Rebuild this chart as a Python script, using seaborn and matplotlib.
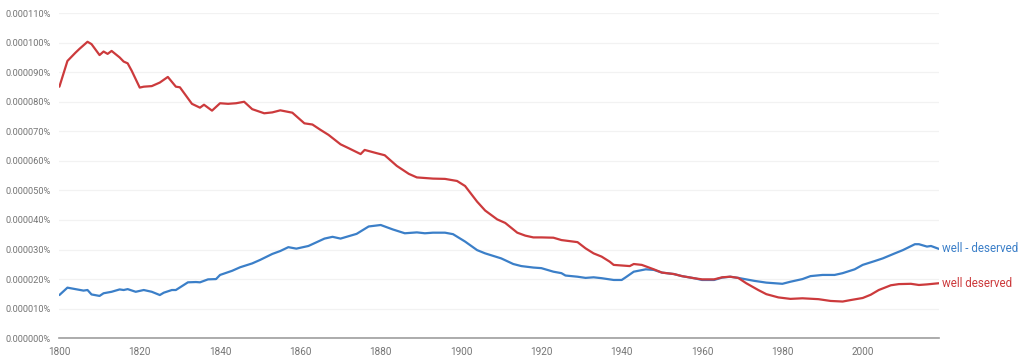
import pandas as pd
import matplotlib
matplotlib.use("Agg")
import matplotlib.pyplot as plt
import seaborn as sns
from matplotlib.ticker import FuncFormatter

# values in units of 0.00001 %
red_years = [1800, 1802, 1804, 1805, 1807, 1808, 1810, 1811, 1812, 1813, 1815, 1816, 1817, 1818,
             1820, 1821, 1823, 1825, 1827, 1829, 1830, 1833, 1835, 1836, 1838, 1840, 1842, 1844,
             1846, 1848, 1851, 1853, 1855, 1858, 1861, 1863, 1865, 1867, 1870, 1872, 1875, 1876,
             1879, 1881, 1884, 1887, 1889, 1893, 1896, 1899, 1901, 1904, 1906, 1909, 1911, 1914,
             1916, 1918, 1920, 1923, 1925, 1929, 1931, 1933, 1935, 1937, 1938, 1942, 1943, 1945,
             1948, 1950, 1953, 1955, 1958, 1960, 1963, 1965, 1967, 1969, 1971, 1974, 1976, 1979,
             1982, 1985, 1989, 1992, 1995, 1997, 2000, 2002, 2004, 2007, 2009, 2012, 2014, 2016,
             2019]
red_vals = [8.51, 9.38, 9.66, 9.79, 10.03, 9.95, 9.58, 9.70, 9.62, 9.72, 9.50, 9.36, 9.30, 9.05,
            8.48, 8.51, 8.53, 8.65, 8.84, 8.51, 8.49, 7.93, 7.80, 7.90, 7.70, 7.95, 7.93, 7.95,
            8.00, 7.75, 7.61, 7.64, 7.71, 7.63, 7.27, 7.23, 7.05, 6.88, 6.56, 6.43, 6.23, 6.37,
            6.26, 6.19, 5.83, 5.56, 5.44, 5.40, 5.39, 5.32, 5.15, 4.62, 4.32, 4.02, 3.90, 3.57,
            3.47, 3.41, 3.41, 3.40, 3.32, 3.25, 3.04, 2.87, 2.76, 2.59, 2.48, 2.44, 2.51, 2.48,
            2.33, 2.22, 2.17, 2.10, 2.03, 1.99, 1.99, 2.06, 2.08, 2.04, 1.86, 1.63, 1.49, 1.38,
            1.33, 1.35, 1.32, 1.26, 1.24, 1.29, 1.36, 1.47, 1.63, 1.79, 1.83, 1.84, 1.80, 1.82,
            1.86]

blue_years = [1800, 1802, 1804, 1806, 1807, 1808, 1810, 1811, 1813, 1815, 1816, 1817, 1819, 1821,
              1823, 1825, 1826, 1828, 1829, 1832, 1834, 1835, 1837, 1839, 1840, 1843, 1845, 1848,
              1850, 1853, 1855, 1857, 1859, 1862, 1866, 1868, 1870, 1874, 1877, 1880, 1883, 1886,
              1889, 1891, 1893, 1896, 1898, 1901, 1904, 1906, 1910, 1913, 1915, 1918, 1920, 1923,
              1925, 1926, 1929, 1931, 1933, 1935, 1938, 1940, 1941, 1943, 1946, 1948, 1950, 1953,
              1955, 1958, 1960, 1963, 1965, 1967, 1969, 1973, 1976, 1980, 1982, 1985, 1987, 1990,
              1993, 1995, 1998, 2000, 2003, 2005, 2008, 2010, 2013, 2014, 2016, 2017, 2019]
blue_vals = [1.46, 1.71, 1.66, 1.61, 1.63, 1.48, 1.43, 1.52, 1.57, 1.65, 1.63, 1.66, 1.57, 1.63,
             1.57, 1.46, 1.54, 1.63, 1.63, 1.89, 1.90, 1.89, 1.99, 2.00, 2.14, 2.28, 2.40, 2.53,
             2.65, 2.85, 2.95, 3.08, 3.03, 3.12, 3.37, 3.43, 3.37, 3.53, 3.78, 3.83, 3.68, 3.55,
             3.58, 3.55, 3.57, 3.57, 3.52, 3.27, 2.98, 2.87, 2.70, 2.51, 2.44, 2.39, 2.37, 2.25,
             2.20, 2.12, 2.08, 2.04, 2.06, 2.03, 1.97, 1.97, 2.06, 2.25, 2.33, 2.31, 2.22, 2.17,
             2.10, 2.03, 1.97, 1.97, 2.05, 2.08, 2.04, 1.94, 1.88, 1.84, 1.91, 2.00, 2.10, 2.14,
             2.14, 2.20, 2.33, 2.48, 2.61, 2.70, 2.87, 2.98, 3.18, 3.18, 3.10, 3.12, 3.02]

labels = ["well - deserved", "well deserved"]
colors = {"well - deserved": "#3b7fc8", "well deserved": "#cc3a3c"}

df = pd.concat([
    pd.DataFrame({"year": blue_years, "pct": [v * 1e-5 for v in blue_vals], "ngram": labels[0]}),
    pd.DataFrame({"year": red_years, "pct": [v * 1e-5 for v in red_vals], "ngram": labels[1]}),
])

sns.set_style("white")
plt.rcParams["font.family"] = ["Roboto", "DejaVu Sans"]

fig = plt.figure(figsize=(10.24, 3.6), dpi=100)
ax = fig.add_axes([0.058, 0.0606, 0.859, 0.903])
sns.lineplot(data=df, x="year", y="pct", hue="ngram", palette=colors, linewidth=1.6,
             legend=False, ax=ax)

ax.set_xlim(1800, 2019)
ax.set_ylim(0, 0.000110)
ax.set_yticks([i * 1e-5 for i in range(12)])
ax.yaxis.set_major_formatter(FuncFormatter(lambda v, p: f"{v:.6f}%"))
ax.set_xticks(range(1800, 2020, 20))
ax.grid(axis="y", color="#f2f2f2", linewidth=0.9)
ax.set_axisbelow(True)
for s in ["top", "right", "left"]:
    ax.spines[s].set_visible(False)
ax.spines["bottom"].set_color("#9e9e9e")
ax.spines["bottom"].set_linewidth(1.2)
ax.tick_params(axis="y", length=4, width=0.9, color="#757575", labelsize=6.7,
               labelcolor="#757575", pad=2)
ax.tick_params(axis="x", length=4, color="#9e9e9e", labelsize=7.2, labelcolor="#757575", pad=2)
ax.set_xlabel("")
ax.set_ylabel("")

ax.text(2019.8, blue_vals[-1] * 1e-5, labels[0], color=colors[labels[0]], fontsize=8.4,
        va="center", ha="left")
ax.text(2019.8, red_vals[-1] * 1e-5, labels[1], color=colors[labels[1]], fontsize=8.4,
        va="center", ha="left")

fig.savefig("out.png", dpi=100)
